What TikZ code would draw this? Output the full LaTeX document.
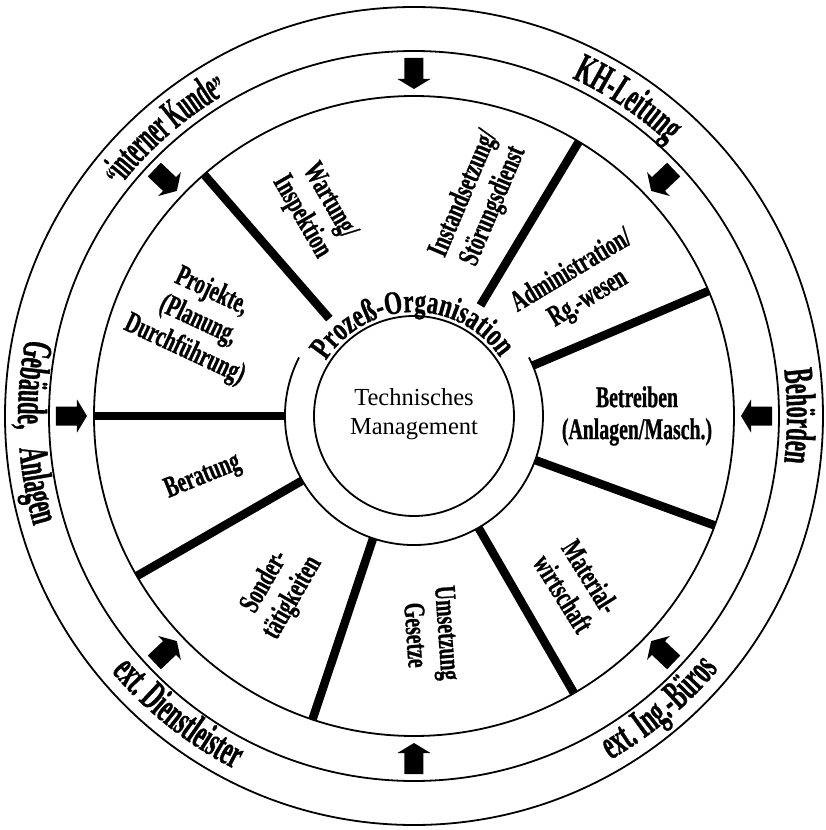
\documentclass[tikz,border=0pt]{standalone}
\usepackage{fontspec}
\setmainfont{Liberation Serif}
\newfontfamily\condfam{Liberation Serif}[FakeStretch=0.66,FakeBold=0.8]
\newfontfamily\outerfam{Liberation Serif}[FakeStretch=0.53,FakeBold=0.8]
\newfontfamily\narrowfam{Liberation Serif}[FakeStretch=0.46,FakeBold=0.8]
\newfontfamily\ringfam{Liberation Serif}[FakeStretch=0.7,FakeBold=0.8]
\usetikzlibrary{decorations.text}
\newcommand\innerlbl{\condfam\bfseries\fontsize{30pt}{32pt}\selectfont}
\newcommand\outerlbl{\outerfam\bfseries\fontsize{42pt}{44pt}\selectfont}
\newcommand\narrowlbl{\narrowfam\bfseries\fontsize{42pt}{44pt}\selectfont}
\newcommand\quotelbl{\outerfam\bfseries\fontsize{30pt}{32pt}\selectfont}
\newcommand\ringlbl{\ringfam\bfseries\fontsize{33pt}{35pt}\selectfont}
\begin{document}
\begin{tikzpicture}[x=1pt,y=1pt,
  circ/.style={line width=1.8pt},
  spoke/.style={line width=8.5pt},
  sector/.style={font=\innerlbl, align=center, inner sep=0pt},
  hub/.style={font=\fontsize{24.5pt}{29pt}\selectfont, align=center, inner sep=0pt},
]
\useasboundingbox (-414,-414) rectangle (412,416);
\coordinate (c) at (0,0);
% circles
\draw[circ] (c) circle[radius=409];
\draw[circ] (c) circle[radius=365];
\draw[circ] (c) circle[radius=320];
\draw[circ] (c) circle[radius=100];
\draw[circ] (153:129) arc[start angle=153, end angle=387, radius=129];
% spokes
\foreach \a in {180,131,59,23,-20,-60,-108.5,-150}
  \draw[spoke] (\a:129) -- (\a:320);
% arrows
\foreach \a in {90,136.5,43.5,0,-43.5,-90,-136.5,180}
  \fill[rotate=\a] (358,-9.5) -- (337,-9.5) -- (337,-16.5) -- (327,0) -- (337,16.5) -- (337,9.5) -- (358,9.5) -- cycle;
% outer labels
\path[decorate,decoration={text along path,text align=center,text={|\outerlbl|KH-Leitung}}]
  (96:373) arc[start angle=96,end angle=16,radius=373];
\path[decorate,decoration={text along path,text align=center,text={|\quotelbl|“|\narrowlbl|interner Kunde|\quotelbl|”}}]
  (171:373) arc[start angle=171,end angle=91,radius=373];
\path[decorate,decoration={text along path,text align=center,text={|\outerlbl|Behörden}}]
  (40:373) arc[start angle=40,end angle=-40,radius=373];
\path[decorate,decoration={text along path,text align=center,text={|\outerlbl|ext. Ing.-Büros}}]
  (-95:396) arc[start angle=-95,end angle=-5,radius=396];
\path[decorate,decoration={text along path,text align=center,text={|\outerlbl|ext. Dienstleister}}]
  (-173.4:396) arc[start angle=-173.4,end angle=-83.4,radius=396];
\path[decorate,decoration={text along path,text align=center,text={|\outerlbl|Gebäude,}}]
  (145.4:396) arc[start angle=145.4,end angle=205.4,radius=396];
\path[decorate,decoration={text along path,text align=center,text={|\outerlbl|Anlagen}}]
  (160.4:396) arc[start angle=160.4,end angle=220.4,radius=396];
% ring label
\path[decorate,decoration={text along path,text align=center,text={|\ringlbl|Prozeß-Organisation}}]
  (181:104) arc[start angle=181,end angle=1,radius=104];
% hub
\node[hub] (tm) at (0,2) {Technisches\\Management};
% sector labels
\node[sector, rotate=-25] (proj) at (-216,95) {Projekte,\\(Planung,\\Durchführung)};
\node[sector, rotate=-60] (wart) at (-99,207) {Wartung/\\Inspektion};
\node[sector, rotate=67] (inst) at (65,216) {Instandsetzung/\\Störungsdienst};
\node[sector, rotate=31] (adm) at (166,131) {Administration/\\Rg.-wesen};
\node[sector] (betr) at (223,0) {Betreiben\\(Anlagen/Masch.)};
\node[sector, rotate=-58] (mat) at (163,-169) {Material-\\wirtschaft};
\node[sector, rotate=-86] (ums) at (18,-218) {Umsetzung\\Gesetze};
\node[sector, rotate=60] (sond) at (-135,-174) {Sonder-\\tätigkeiten};
\node[sector, rotate=22] (ber) at (-211,-61) {Beratung};
\end{tikzpicture}
\end{document}
